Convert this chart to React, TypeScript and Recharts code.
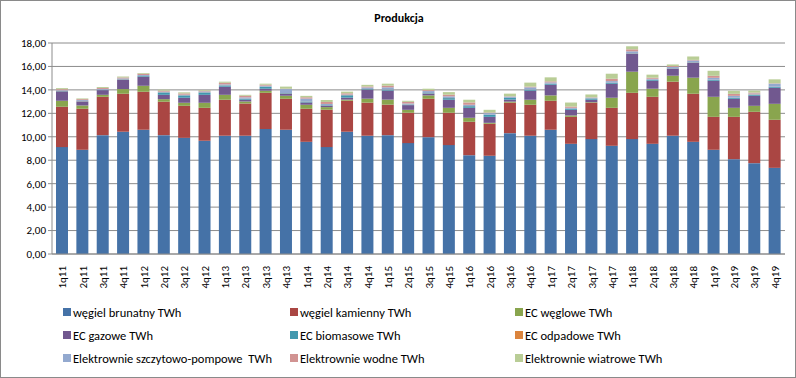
import { BarChart, Bar, XAxis, YAxis, CartesianGrid } from "recharts"

const quarters = [
  "1q11", "2q11", "3q11", "4q11", "1q12", "2q12", "3q12", "4q12", "1q13", "2q13", "3q13", "4q13",
  "1q14", "2q14", "3q14", "4q14", "1q15", "2q15", "3q15", "4q15", "1q16", "2q16", "3q16", "4q16",
  "1q17", "2q17", "3q17", "4q17", "1q18", "2q18", "3q18", "4q18", "1q19", "2q19", "3q19", "4q19",
]

const brunatny = [
  9.12, 8.89, 10.14, 10.43, 10.6, 10.14, 9.91, 9.66, 10.09, 10.09, 10.66, 10.6,
  9.57, 9.12, 10.43, 10.09, 10.14, 9.46, 9.97, 9.29, 8.43, 8.38, 10.31, 10.09,
  10.6, 9.4, 9.8, 9.23, 9.8, 9.4, 10.09, 9.57, 8.89, 8.09, 7.75, 7.35,
]
const kamienny = [
  3.44, 3.5, 3.27, 3.24, 3.24, 2.85, 2.73, 2.81, 3.07, 2.75, 3.09, 2.64,
  2.82, 3.19, 2.65, 2.82, 2.6, 2.59, 3.27, 2.76, 2.85, 2.73, 2.6, 2.64,
  2.47, 2.3, 3.1, 3.24, 3.95, 4.01, 4.61, 4.1, 2.81, 3.61, 4.38, 4.1,
]
const ecWeglowe = [
  0.51, 0.28, 0.17, 0.4, 0.51, 0.22, 0.26, 0.43, 0.42, 0.17, 0.18, 0.26,
  0.34, 0.22, 0.09, 0.34, 0.43, 0.25, 0.29, 0.42, 0.34, 0.08, 0.09, 0.43,
  0.46, 0.12, 0.05, 0.86, 1.8, 0.69, 0.51, 1.37, 1.71, 0.77, 0.51, 1.36,
]
const ecGazowe = [
  0.8, 0.34, 0.4, 0.8, 0.77, 0.37, 0.43, 0.68, 0.69, 0.15, 0.17, 0.17,
  0.2, 0.11, 0.17, 0.77, 0.77, 0.4, 0.14, 0.69, 0.85, 0.51, 0.17, 0.77,
  0.91, 0.48, 0.21, 1.19, 1.54, 0.68, 0.6, 1.28, 1.37, 0.77, 0.86, 1.37,
]
const ecBiomasowe = [
  0.03, 0.02, 0.02, 0.03, 0.06, 0.2, 0.2, 0.2, 0.11, 0.08, 0.17, 0.05,
  0.08, 0.05, 0.2, 0.05, 0.08, 0.05, 0.05, 0.14, 0.14, 0.17, 0.14, 0.08,
  0.08, 0.08, 0.11, 0.08, 0.03, 0.08, 0.03, 0.03, 0.08, 0.08, 0.08, 0.08,
]
const ecOdpadowe = [
  0.01, 0.01, 0.01, 0.01, 0.01, 0.01, 0.01, 0.01, 0.01, 0.01, 0.01, 0.01,
  0.01, 0.01, 0.01, 0.01, 0.01, 0.01, 0.01, 0.01, 0.01, 0.01, 0.01, 0.01,
  0.01, 0.01, 0.01, 0.01, 0.01, 0.01, 0.01, 0.01, 0.01, 0.01, 0.03, 0.01,
]
const pompowe = [
  0.06, 0.09, 0.07, 0.07, 0.08, 0.06, 0.05, 0.08, 0.08, 0.11, 0.08, 0.34,
  0.24, 0.1, 0.05, 0.13, 0.19, 0.08, 0.17, 0.14, 0.11, 0.14, 0.11, 0.2,
  0.11, 0.08, 0.06, 0.14, 0.16, 0.08, 0.1, 0.15, 0.16, 0.16, 0.08, 0.26,
]
const wodne = [
  0.09, 0.08, 0.08, 0.08, 0.11, 0.08, 0.11, 0.06, 0.14, 0.14, 0.08, 0.03,
  0.11, 0.17, 0.11, 0.08, 0.14, 0.14, 0.08, 0.14, 0.2, 0.05, 0.02, 0.06,
  0.09, 0.11, 0.03, 0.2, 0.17, 0.09, 0.08, 0.05, 0.17, 0.17, 0.08, 0.03,
]
const wiatrowe = [
  0.09, 0.06, 0.08, 0.08, 0.06, 0.09, 0.09, 0.06, 0.09, 0.08, 0.09, 0.18,
  0.12, 0.17, 0.14, 0.14, 0.17, 0.09, 0.12, 0.22, 0.23, 0.23, 0.23, 0.34,
  0.34, 0.34, 0.24, 0.43, 0.26, 0.26, 0.14, 0.29, 0.43, 0.26, 0.17, 0.34,
]

const yTicks = [0, 2, 4, 6, 8, 10, 12, 14, 16, 18]

const series = [
  { key: "brunatny", name: "węgiel brunatny TWh", color: "#4572A7", values: brunatny },
  { key: "kamienny", name: "węgiel kamienny TWh", color: "#AA4643", values: kamienny },
  { key: "ecWeglowe", name: "EC węglowe TWh", color: "#89A54E", values: ecWeglowe },
  { key: "ecGazowe", name: "EC gazowe TWh", color: "#71588F", values: ecGazowe },
  { key: "ecBiomasowe", name: "EC biomasowe TWh", color: "#4198AF", values: ecBiomasowe },
  { key: "ecOdpadowe", name: "EC odpadowe TWh", color: "#DB843D", values: ecOdpadowe },
  { key: "pompowe", name: "Elektrownie szczytowo-pompowe  TWh", color: "#93A9CF", values: pompowe },
  { key: "wodne", name: "Elektrownie wodne TWh", color: "#D19392", values: wodne },
  { key: "wiatrowe", name: "Elektrownie wiatrowe TWh", color: "#B9CD96", values: wiatrowe },
]

const data = quarters.map((q, i) => {
  const row: Record<string, string | number> = { q }
  series.forEach((s) => {
    row[s.key] = s.values[i]
  })
  return row
})

const font = "Calibri, Carlito, 'Liberation Sans', Arial, sans-serif"

function XTick(props: any) {
  const { x, y, payload } = props
  return (
    <text
      x={x + 4}
      y={y + 4}
      transform={`rotate(-90, ${x + 4}, ${y + 4})`}
      textAnchor="end"
      fontSize={11}
      fontFamily={font}
      fill="#000"
    >
      {payload.value}
    </text>
  )
}

export default function App() {
  return (
    <div
      style={{
        position: "absolute",
        left: 0,
        top: 0,
        width: 796,
        height: 378,
        boxSizing: "border-box",
        border: "1px solid #8a8a8a",
        background: "#fff",
        fontFamily: font,
      }}
    >
      <div
        style={{
          position: "absolute",
          left: 0,
          width: 796,
          top: 10,
          textAlign: "center",
          fontSize: 12,
          fontWeight: "bold",
        }}
      >
        Produkcja
      </div>
      <div style={{ position: "absolute", left: -1, top: -1 }}>
        <BarChart
          width={796}
          height={378}
          data={data}
          margin={{ top: 43, right: 11, bottom: 84, left: 0 }}
        >
          <CartesianGrid vertical={false} stroke="#8c8c8c" />
          <XAxis
            dataKey="q"
            interval={0}
            height={40}
            tick={<XTick />}
            tickLine={false}
            axisLine={{ stroke: "#8c8c8c" }}
          />
          <YAxis
            width={52}
            domain={[0, 18]}
            ticks={yTicks}
            interval={0}
            tickFormatter={(v: number) => v.toFixed(2).replace(".", ",")}
            tick={{ fontSize: 11, fill: "#000", fontFamily: font }}
            tickLine={{ stroke: "#8c8c8c" }}
            tickSize={4}
            axisLine={{ stroke: "#8c8c8c" }}
          />
          {series.map((s) => (
            <Bar
              key={s.key}
              dataKey={s.key}
              name={s.name}
              stackId="a"
              fill={s.color}
              barSize={12}
              isAnimationActive={false}
            />
          ))}
        </BarChart>
      </div>
      <div
        style={{
          position: "absolute",
          left: 62,
          top: 303,
          display: "grid",
          gridTemplateColumns: "227px 225px 225px",
          rowGap: 7,
          fontSize: 12.5,
        }}
      >
        {series.map((s) => (
          <div key={s.key} style={{ display: "flex", alignItems: "center", height: 16, whiteSpace: "pre" }}>
            <span style={{ width: 8, height: 8, background: s.color, marginRight: 2, display: "inline-block" }} />
            {s.name}
          </div>
        ))}
      </div>
    </div>
  )
}
